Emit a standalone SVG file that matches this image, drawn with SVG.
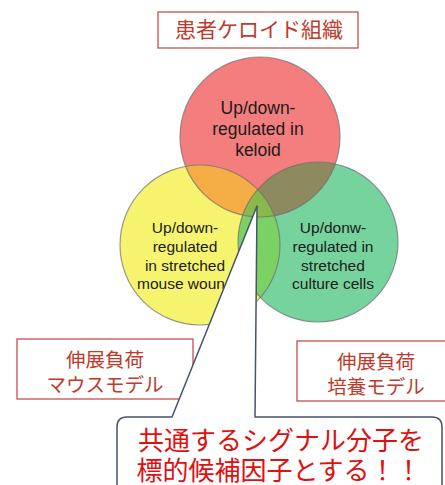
<svg xmlns="http://www.w3.org/2000/svg" width="445" height="485" viewBox="0 0 445 485">
<style>
.lbl{fill:#fff;stroke:#C0504D;stroke-width:1.3}
.jp{font-family:"Noto Sans CJK JP","Noto Sans",sans-serif;text-anchor:middle}
.lt{fill:#C0392B;font-size:19.5px}
.en{font-family:"Liberation Sans",Arial,sans-serif;fill:#1a1a1a;text-anchor:middle}
.ol{fill:none;stroke:#6f6f6f;stroke-opacity:0.7;stroke-width:1.2}
</style>
<defs>
<clipPath id="cr"><circle cx="260" cy="137" r="80"/></clipPath>
<clipPath id="cy"><circle cx="200" cy="245" r="80"/></clipPath>
<clipPath id="cg"><circle cx="318" cy="242" r="80"/></clipPath>
</defs>
<g id="title">
<rect class="lbl" x="158" y="12" width="200" height="36"/>
<text class="jp" x="259" y="37" fill="#C0392B" font-size="21">患者ケロイド組織</text>
</g>
<g id="venn">
<circle cx="200" cy="245" r="80" fill="#F6F46E"/>
<circle cx="318" cy="242" r="80" fill="#76D39E"/>
<circle cx="260" cy="137" r="80" fill="#F47E7E"/>
<circle cx="260" cy="137" r="80" fill="#F5AE45" clip-path="url(#cy)"/>
<circle cx="260" cy="137" r="80" fill="#8E8A5F" clip-path="url(#cg)"/>
<circle cx="200" cy="245" r="80" fill="#7BD164" clip-path="url(#cg)"/>
<g clip-path="url(#cy)"><circle cx="260" cy="137" r="80" fill="#8AB84C" clip-path="url(#cg)"/></g>
<circle class="ol" cx="200" cy="245" r="80"/>
<circle class="ol" cx="318" cy="242" r="80"/>
<circle class="ol" cx="260" cy="137" r="80"/>
</g>
<g id="keloid">
<text class="en" font-size="17.5" x="258" y="114">Up/down-</text>
<text class="en" font-size="17.5" x="258" y="135">regulated in</text>
<text class="en" font-size="17.5" x="258" y="156">keloid</text>
</g>
<g id="mouse">
<text class="en" font-size="15.5" x="185" y="233">Up/down-</text>
<text class="en" font-size="15.5" x="185" y="252">regulated</text>
<text class="en" font-size="15.5" x="185" y="271">in stretched</text>
<text class="en" font-size="15.5" x="137" y="289" style="text-anchor:start">mouse woun</text>
</g>
<g id="culture">
<text class="en" font-size="15.5" x="333" y="233">Up/donw-</text>
<text class="en" font-size="15.5" x="333" y="252">regulated in</text>
<text class="en" font-size="15.5" x="333" y="271">stretched</text>
<text class="en" font-size="15.5" x="333" y="289">culture cells</text>
</g>
<g id="mouse-model">
<rect class="lbl" x="17" y="339" width="176" height="60"/>
<text class="jp lt" x="105" y="367">伸展負荷</text>
<text class="jp lt" x="105" y="392">マウスモデル</text>
</g>
<g id="culture-model">
<rect class="lbl" x="297" y="341" width="160" height="60"/>
<text class="jp lt" x="376" y="369">伸展負荷</text>
<text class="jp lt" x="376" y="394">培養モデル</text>
</g>
<g id="callout">
<path d="M172,417 L257,206 L255,417 L432,417 Q442,417 442,427 L442,495 L117,495 L117,427 Q117,417 127,417 Z" fill="#fff" stroke="#44546A" stroke-width="1.5" stroke-linejoin="round"/>
<text class="jp" x="281" y="450" fill="#E01010" font-size="26">共通するシグナル分子を</text>
<text class="jp" x="279" y="480" fill="#E01010" font-size="26">標的候補因子とする！！</text>
</g>
</svg>
